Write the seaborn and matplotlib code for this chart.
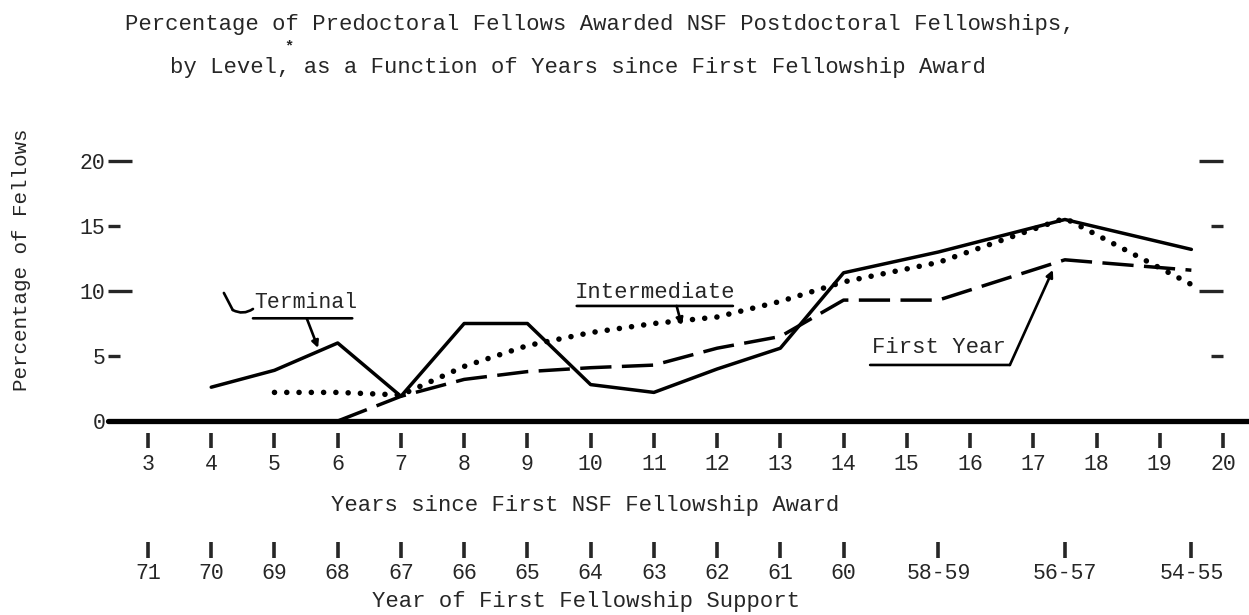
import matplotlib
matplotlib.use("Agg")
import matplotlib.pyplot as plt
import matplotlib.ticker as ticker
import numpy as np
import pandas as pd
import seaborn as sns

# Data
years_since = [3, 4, 5, 6, 7, 8, 9, 10, 11, 12, 13, 14, 15.5, 17.5, 19.5]
terminal = [np.nan, 2.6, 3.9, 6.0, 1.9, 7.5, 7.5, 2.8, 2.2, 4.0, 5.6, 11.4, 13.0, 15.5, 13.2]
intermediate = [np.nan, np.nan, 2.2, 2.2, 2.0, 4.2, 5.8, 6.8, 7.5, 8.0, 9.2, 10.7, 12.2, 15.6, 10.5]
first_year = [np.nan, np.nan, np.nan, 0.0, 1.9, 3.2, 3.8, 4.1, 4.3, 5.6, 6.5, 9.3, 9.3, 12.4, 11.6]

year_ticks = list(range(3, 21))
support_labels = ['71', '70', '69', '68', '67', '66', '65', '64', '63', '62', '61', '60',
                  '58-59', '56-57', '54-55']
pct_major = [0, 10, 20]
pct_minor = [5, 15]

df = pd.DataFrame({'years': years_since, 'Terminal': terminal,
                   'Intermediate': intermediate, 'First Year': first_year})
long = df.melt(id_vars='years', var_name='level', value_name='pct').dropna()

sns.set_style('white')
plt.rcParams['font.family'] = ['Liberation Mono', 'DejaVu Sans Mono']
FS = 16

fig = plt.figure(figsize=(12.49, 6.15), dpi=100)
ax = fig.add_axes([0.08647, 0.3091, 0.8927, 0.4714])

styles = {
    'Terminal': dict(lw=2.5, linestyle='-'),
    'Intermediate': dict(lw=4.0, linestyle=(0, (0.01, 2.2)), dash_capstyle='round'),
    'First Year': dict(lw=2.5, linestyle=(0, (9, 3))),
}
for level, kw in styles.items():
    sub = long[long['level'] == level]
    sns.lineplot(data=sub, x='years', y='pct', ax=ax, color='black', **kw)

ax.set_xlim(2.3675, 20)
ax.set_ylim(-0.3, 22)
ax.set_xlabel('')
ax.set_ylabel('')
ax.axhline(0, xmin=0, xmax=1.0233, color='black', lw=3.8, clip_on=False, zorder=3)

for s in ax.spines.values():
    s.set_visible(False)
ax.spines['bottom'].set_position(('outward', 5.8))

ax.set_xticks(year_ticks)
ax.set_xticklabels([str(t) for t in year_ticks])
ax.tick_params(axis='x', which='major', direction='out', length=10.8, width=2.6,
               pad=4, labelsize=15.5, bottom=True)

ax.yaxis.set_major_locator(ticker.FixedLocator(pct_major))
ax.yaxis.set_minor_locator(ticker.FixedLocator(pct_minor))
ax.yaxis.set_major_formatter(ticker.FormatStrFormatter('%d'))
ax.yaxis.set_minor_formatter(ticker.FormatStrFormatter('%d'))
ax.tick_params(axis='y', which='major', direction='in', length=17, width=2.4,
               left=True, right=True, labelleft=True, labelright=False, pad=2, labelsize=15.5)
ax.tick_params(axis='y', which='minor', direction='in', length=8.5, width=2.4,
               left=True, right=True, labelleft=True, labelright=False, pad=2, labelsize=15.5)

# second scale: year of first fellowship support
ax2 = ax.twiny()
ax2.set_xlim(ax.get_xlim())
for s in ax2.spines.values():
    s.set_visible(False)
ax2.xaxis.set_ticks_position('bottom')
ax2.spines['bottom'].set_position(('outward', 84))
ax2.set_xticks(years_since)
ax2.set_xticklabels(support_labels)
ax2.tick_params(axis='x', direction='out', length=11.5, width=2.6, pad=4, labelsize=15.5)

# annotations
line = dict(arrowstyle='-', color='black', lw=1.9, shrinkA=0, shrinkB=0)
arrow = dict(arrowstyle='-|>', color='black', lw=1.9, shrinkA=0, shrinkB=0, mutation_scale=10)

ax.text(5.50, 9.08, 'Terminal', ha='center', va='center', fontsize=15.5)
ax.annotate('', xy=(6.23, 7.9), xytext=(4.66, 7.9), arrowprops=line)
ax.annotate('', xy=(4.34, 8.54), xytext=(4.20, 9.85), arrowprops=line)
ax.annotate('', xy=(4.66, 8.62), xytext=(4.34, 8.54),
            arrowprops=dict(line, connectionstyle='arc3,rad=0.3'))
ax.annotate('', xy=(5.69, 5.62), xytext=(5.51, 7.9), arrowprops=arrow)

ax.text(11.02, 9.92, 'Intermediate', ha='center', va='center', fontsize=FS)
ax.annotate('', xy=(12.25, 8.85), xytext=(9.78, 8.85), arrowprops=line)
ax.annotate('', xy=(11.44, 7.38), xytext=(11.36, 8.85), arrowprops=arrow)

ax.text(15.51, 5.62, 'First Year', ha='center', va='center', fontsize=FS)
ax.annotate('', xy=(16.63, 4.31), xytext=(14.42, 4.31), arrowprops=line)
ax.annotate('', xy=(17.31, 11.62), xytext=(16.63, 4.31), arrowprops=arrow)

# titles and axis labels
fig.text(125 / 1249, 1 - 30 / 615,
         'Percentage of Predoctoral Fellows Awarded NSF Postdoctoral Fellowships,',
         ha='left', va='baseline', fontsize=FS)
fig.text(170 / 1249, 1 - 73 / 615,
         'by Level, as a Function of Years since First Fellowship Award',
         ha='left', va='baseline', fontsize=FS)
fig.text(289 / 1249, 1 - 46 / 615, '*', ha='center', va='center', fontsize=11,
         fontweight='bold')

fig.text(22 / 1249, 1 - 260 / 615, 'Percentage of Fellows', rotation=90,
         ha='center', va='center', fontsize=15)
fig.text(585 / 1249, 1 - 506 / 615, 'Years since First NSF Fellowship Award',
         ha='center', va='center', fontsize=FS)
fig.text(372 / 1249, 1 - 601 / 615, 'Year of First Fellowship Support',
         ha='left', va='center', fontsize=FS)

fig.savefig('out.png', dpi=100, facecolor='white')
